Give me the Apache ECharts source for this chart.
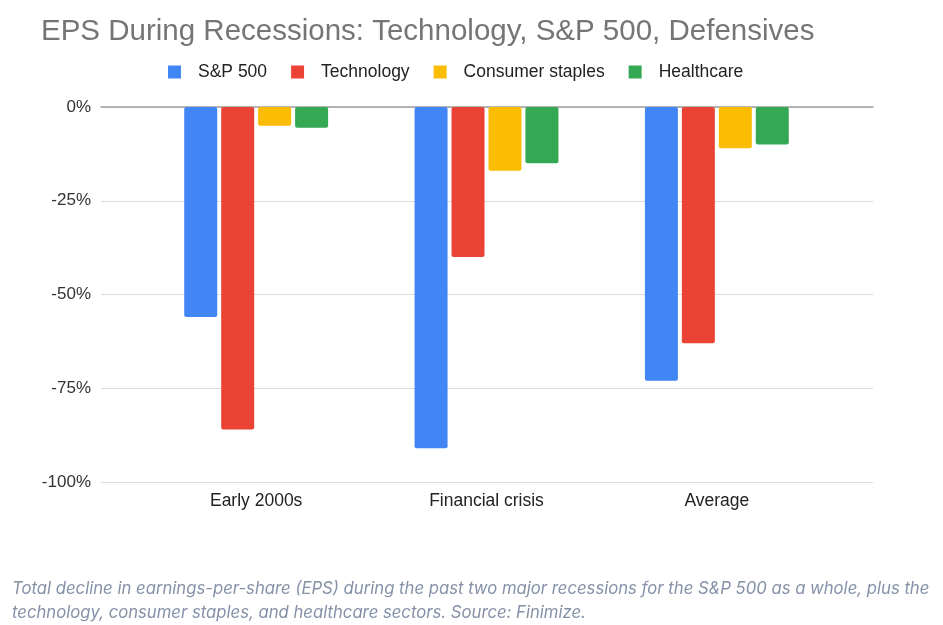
<!DOCTYPE html>
<html>
<head>
<meta charset="utf-8">
<script src="https://cdn.jsdelivr.net/npm/echarts@6/dist/echarts.min.js"></script>
<style>
html,body{margin:0;padding:0;background:#fff;}
#chart{width:943px;height:625px;}
</style>
</head>
<body>
<div id="chart"></div>
<script>
const categories = ['Early 2000s', 'Financial crisis', 'Average'];
const seriesNames = ['S&P 500', 'Technology', 'Consumer staples', 'Healthcare'];
const sp500 = [-56, -91, -73];
const technology = [-86, -40, -63];
const consumerStaples = [-5, -17, -11];
const healthcare = [-5.5, -15, -10];
const yTicks = [-100, -75, -50, -25, 0];
const titleText = 'EPS During Recessions: Technology, S&P 500, Defensives';
const captionText = 'Total decline in earnings-per-share (EPS) during the past two major recessions for the S&P 500 as a whole, plus the\ntechnology, consumer staples, and healthcare sectors. Source: Finimize.';

const colors = ['#4285F4', '#EA4335', '#FBBC04', '#34A853'];
const values = [sp500, technology, consumerStaples, healthcare];

const chart = echarts.init(document.getElementById('chart'), null, {renderer: 'canvas'});
const font = 'Arial, "Liberation Sans", sans-serif';

chart.setOption({
  animation: false,
  color: colors,
  title: [
    {
      text: titleText, left: 36, top: 12,
      textStyle: {fontFamily: font, fontSize: 29.5, fontWeight: 'normal', color: '#757575'}
    },
    {
      text: captionText, left: 7, top: 572,
      textStyle: {fontFamily: 'Inter, sans-serif', fontStyle: 'italic', fontSize: 16.7, fontWeight: 'normal', color: '#8591a7', lineHeight: 24}
    }
  ],
  legend: {
    left: 163, top: 58,
    itemWidth: 13, itemHeight: 13, itemGap: 24,
    icon: 'rect',
    data: seriesNames,
    textStyle: {fontFamily: font, fontSize: 17.5, color: '#222', padding: [0, 0, 0, 12]}
  },
  grid: [
    {left: 101, right: 70, top: 107, bottom: 143},
    {left: 141, right: 111, top: 107, bottom: 143}
  ],
  xAxis: [
    {
      gridIndex: 0, type: 'value', min: 0, max: 1, position: 'top',
      axisLine: {show: true, onZero: false, lineStyle: {color: '#9e9e9e', width: 1.5}},
      axisTick: {show: false}, axisLabel: {show: false}, splitLine: {show: false}
    },
    {
      gridIndex: 1, type: 'category', data: categories, position: 'bottom',
      axisLine: {show: false, onZero: false}, axisTick: {show: false},
      axisLabel: {margin: 10, fontFamily: font, fontSize: 17.5, color: '#222'}
    }
  ],
  yAxis: [
    {
      gridIndex: 0, type: 'value', min: yTicks[0], max: yTicks[yTicks.length - 1], interval: 25,
      axisLine: {show: false}, axisTick: {show: false},
      axisLabel: {margin: 10, fontFamily: font, fontSize: 17, color: '#333', formatter: v => v + '%'},
      splitLine: {show: true, lineStyle: {color: '#dcdcdc', width: 1}}
    },
    {
      gridIndex: 1, type: 'value', min: yTicks[0], max: yTicks[yTicks.length - 1], interval: 25,
      show: false, splitLine: {show: false}
    }
  ],
  series: seriesNames.map((name, i) => ({
    name: name,
    type: 'bar',
    xAxisIndex: 1, yAxisIndex: 1,
    data: values[i],
    barWidth: 33,
    barGap: '12%',
    itemStyle: {color: colors[i], borderRadius: 2}
  }))
});
</script>
</body>
</html>
